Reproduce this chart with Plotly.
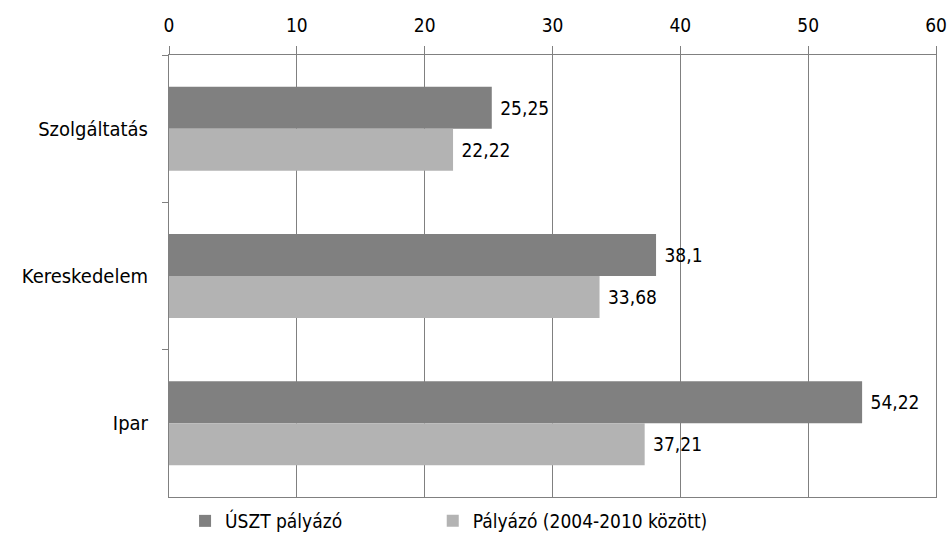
import plotly.graph_objects as go

# Share of applicants by sector (%)
categories = ["Szolgáltatás", "Kereskedelem", "Ipar"]
uszt_values = [25.25, 38.1, 54.22]
palyazo_values = [22.22, 33.68, 37.21]
series_names = ["ÚSZT pályázó", "Pályázó (2004-2010 között)"]
x_ticks = [0, 10, 20, 30, 40, 50, 60]

FONT = "DejaVu Sans Condensed, DejaVu Sans, sans-serif"
FONT_SIZE = 19
AXIS_GRAY = "#808080"


def hu(v):
    # Hungarian decimal comma, with a small gap before the label
    return "\u00a0" + str(v).replace(".", ",")


fig = go.Figure()
for name, values, color, legend_id in [
    (series_names[0], uszt_values, "#808080", "legend"),
    (series_names[1], palyazo_values, "#b3b3b3", "legend2"),
]:
    fig.add_trace(go.Bar(
        name=name,
        y=categories,
        x=values,
        orientation="h",
        marker=dict(color=color, line=dict(width=0)),
        text=[hu(v) for v in values],
        textposition="outside",
        textfont=dict(family=FONT, size=FONT_SIZE, color="#000000"),
        cliponaxis=False,
        legend=legend_id,
    ))

legend_style = dict(
    orientation="h",
    xref="container",
    yref="container",
    xanchor="left",
    y=0.044,
    yanchor="middle",
    font=dict(family=FONT, size=FONT_SIZE, color="#000000"),
    bgcolor="rgba(0,0,0,0)",
)

fig.update_layout(
    width=949,
    height=545,
    margin=dict(l=169, r=13, t=55, b=48, autoexpand=False),
    paper_bgcolor="white",
    plot_bgcolor="white",
    barmode="group",
    bargap=0.43,
    bargroupgap=0,
    font=dict(family=FONT, size=FONT_SIZE, color="#000000"),
    showlegend=True,
    legend=dict(x=0.195, **legend_style),
    legend2=dict(x=0.456, **legend_style),
    xaxis=dict(
        side="top",
        range=[0, 60],
        tickvals=x_ticks,
        ticktext=[str(t) for t in x_ticks],
        showgrid=True,
        gridcolor=AXIS_GRAY,
        gridwidth=1,
        zeroline=False,
        showline=True,
        linecolor=AXIS_GRAY,
        linewidth=1,
        mirror=True,
        ticks="outside",
        ticklen=8,
        tickcolor=AXIS_GRAY,
        ticklabelstandoff=6,
        automargin=False,
        tickfont=dict(family=FONT, size=FONT_SIZE, color="#000000"),
    ),
    yaxis=dict(
        categoryorder="array",
        categoryarray=categories,
        autorange="reversed",
        showgrid=False,
        showline=True,
        linecolor=AXIS_GRAY,
        linewidth=1,
        mirror=True,
        ticks="outside",
        tickson="boundaries",
        ticklen=6,
        tickcolor=AXIS_GRAY,
        ticklabelstandoff=16,
        automargin=False,
        tickfont=dict(family=FONT, size=20, color="#000000"),
    ),
)

fig.write_html("out.html")
